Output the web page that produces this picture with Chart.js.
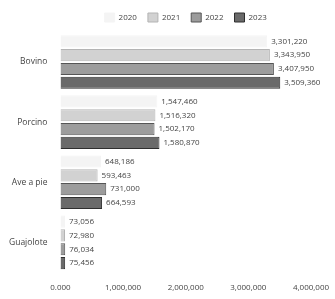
<!DOCTYPE html>
<html>
<head>
<meta charset="utf-8">
<script src="https://cdn.jsdelivr.net/npm/chart.js@4"></script>
<style>
  html, body { margin: 0; padding: 0; background: #fff; }
  #wrap { width: 335px; height: 299px; }
</style>
</head>
<body>
<div id="wrap"><canvas id="chart" width="335" height="299"></canvas></div>
<script>
const categories = ["Bovino", "Porcino", "Ave a pie", "Guajolote"];
const years = ["2020", "2021", "2022", "2023"];
const values2020 = [3301220, 1547460, 648186, 73056];
const values2021 = [3343950, 1516320, 593463, 72980];
const values2022 = [3407950, 1502170, 731000, 76034];
const values2023 = [3509360, 1580870, 664593, 75456];
const xTickLabels = ["0.000", "1,000,000", "2,000,000", "3,000,000", "4,000,000"];

const fills = ["#f4f4f4", "#d2d2d2", "#9c9c9c", "#6a6a6a"];
const borders = ["#f4f4f4", "#b4b4b4", "#555555", "#2e2e2e"];
const series = [values2020, values2021, values2022, values2023];

// draw the value next to each bar end
const barLabels = {
  id: "barLabels",
  afterDatasetsDraw(chart) {
    const ctx = chart.ctx;
    ctx.save();
    ctx.font = "8px 'Open Sans', sans-serif";
    ctx.fillStyle = "#444";
    ctx.textAlign = "left";
    ctx.textBaseline = "middle";
    chart.data.datasets.forEach((ds, i) => {
      chart.getDatasetMeta(i).data.forEach((bar, j) => {
        ctx.fillText(ds.data[j].toLocaleString("en-US"), bar.x + 4, bar.y);
      });
    });
    ctx.restore();
  }
};

new Chart(document.getElementById("chart"), {
  type: "bar",
  data: {
    labels: categories,
    datasets: years.map((y, i) => ({
      label: y,
      data: series[i],
      backgroundColor: fills[i],
      borderColor: borders[i],
      borderWidth: 1,
      barPercentage: 0.88,
      categoryPercentage: 0.92
    }))
  },
  options: {
    indexAxis: "y",
    responsive: false,
    animation: false,
    layout: { padding: { left: 4, right: 24, top: 2, bottom: 3 } },
    plugins: {
      legend: {
        position: "top",
        fullSize: false,
        labels: {
          boxWidth: 10,
          boxHeight: 9,
          padding: 11,
          color: "#444",
          font: { size: 8, family: "'Open Sans', sans-serif" }
        }
      },
      tooltip: { enabled: false }
    },
    scales: {
      x: {
        min: 0,
        max: 4000000,
        grid: { display: false },
        border: { display: false },
        ticks: {
          stepSize: 1000000,
          color: "#444",
          font: { size: 8, family: "'Open Sans', sans-serif" },
          callback: (v, i) => xTickLabels[i]
        }
      },
      y: {
        grid: { display: false },
        border: { display: false },
        ticks: {
          color: "#444",
          padding: 5,
          font: { size: 8.5, family: "'Open Sans', sans-serif" }
        }
      }
    }
  },
  plugins: [barLabels]
});
</script>
</body>
</html>
